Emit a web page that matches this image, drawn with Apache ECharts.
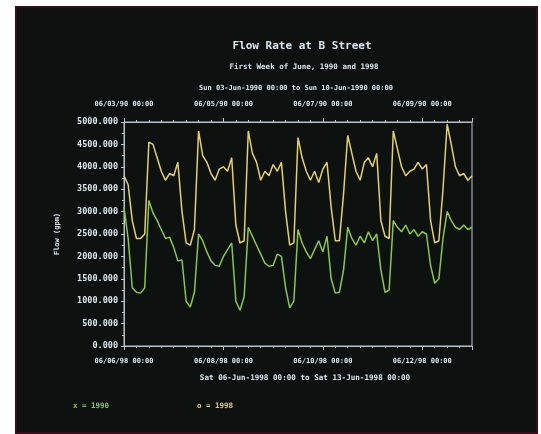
<!DOCTYPE html>
<html><head><meta charset="utf-8">
<script src="https://cdn.jsdelivr.net/npm/echarts@6/dist/echarts.min.js"></script>
<style>
html,body{margin:0;padding:0;background:#ffffff;width:541px;height:434px;overflow:hidden;}
#frame{position:absolute;left:15px;top:6px;width:523px;height:428px;box-sizing:border-box;border:2px solid #3b0c1c;background:#0d1210;}
#chart{position:absolute;left:17px;top:8px;width:519px;height:426px;}
</style></head>
<body>
<div id="frame"></div>
<div id="chart"></div>
<script>
// ---- data ----
const titleText = 'Flow Rate at B Street';
const subtitleText = 'First Week of June, 1990 and 1998';
const topRangeText = 'Sun 03-Jun-1990 00:00 to Sun 10-Jun-1990 00:00';
const bottomRangeText = 'Sat 06-Jun-1998 00:00 to Sat 13-Jun-1998 00:00';
const yAxisName = 'Flow (gpm)';
const topTickLabels = ['06/03/90 00:00', '06/05/90 00:00', '06/07/90 00:00', '06/09/90 00:00'];
const bottomTickLabels = ['06/06/98 00:00', '06/08/98 00:00', '06/10/98 00:00', '06/12/98 00:00'];
const legendGreen = 'x = 1990';
const legendYellow = 'o = 1998';
const sampleStepHours = 2;
// flow (gpm) every 2 hours, 1990 (top axis)
const flow1990 = [3100,2400,1300,1200,1180,1300,3250,2970,2800,2600,2400,2430,2200,1900,1920,1000,870,1200,
  2500,2350,2100,1900,1800,1780,2000,2150,2300,1000,800,1100,2650,2450,2250,2050,1850,1780,1800,2050,2000,
  1300,850,1000,2600,2300,2100,1950,2150,2350,2100,2450,1500,1180,1200,1700,2650,2400,2250,2450,2300,2550,
  2350,2500,1700,1200,1250,2800,2650,2550,2700,2500,2600,2450,2550,2500,1800,1400,1500,2400,3000,2800,2650,
  2600,2700,2600,2650];
// flow (gpm) every 2 hours, 1998 (bottom axis)
const flow1998 = [3800,3600,2800,2400,2400,2500,4550,4500,4200,3900,3700,3850,3800,4100,3000,2300,2250,2600,
  4800,4250,4100,3850,3700,3950,4000,3900,4200,2700,2300,2350,4800,4300,4100,3700,3900,3800,4050,3900,4100,
  3000,2250,2300,4650,4200,3900,3700,3900,3650,3950,4100,3100,2350,2350,3400,4700,4300,3900,3700,4100,4200,
  4000,4300,2800,2450,2400,4800,4400,4000,3800,3900,3950,4100,3950,4050,2800,2300,2350,3500,4950,4500,4000,
  3800,3850,3700,3800];

const TXT = '#dde6f0';
const AX = '#b9c2cc';
const GREEN = '#8cc450';
const YELLOW = '#e6cf6e';
const FONT = 'DejaVu Sans Mono';

const toPairs = arr => arr.map((v, i) => [i * sampleStepHours, v]);

const chart = echarts.init(document.getElementById('chart'), null, {renderer: 'canvas'});

function xAxisCommon(labels, pos, margin) {
  return {
    type: 'value', position: pos, min: 0, max: 168, interval: 48,
    axisLine: {show: true, onZero: false, lineStyle: {color: AX, width: 1}},
    axisTick: {show: true, length: 4, lineStyle: {color: AX}},
    minorTick: {show: true, splitNumber: 8, length: 2, lineStyle: {color: AX}},
    splitLine: {show: false},
    axisLabel: {
      color: TXT, fontFamily: FONT, fontSize: 7, fontWeight: 'bold', margin: margin,
      showMaxLabel: false,
      formatter: v => (v % 48 === 0 ? (labels[v / 48] || '') : '')
    }
  };
}

const option = {
  backgroundColor: 'transparent',
  animation: false,
  grid: {left: 107, top: 114, right: 64, bottom: 88, show: true, borderColor: AX, borderWidth: 1},
  xAxis: [xAxisCommon(bottomTickLabels, 'bottom', 12), xAxisCommon(topTickLabels, 'top', 14)],
  yAxis: {
    type: 'value', min: 0, max: 5000, interval: 500,
    axisLine: {show: true, lineStyle: {color: AX}},
    axisTick: {show: true, length: 3, lineStyle: {color: AX}},
    minorTick: {show: true, splitNumber: 2, length: 2, lineStyle: {color: AX}},
    splitLine: {show: false},
    axisLabel: {color: TXT, fontFamily: FONT, fontSize: 8.5, fontWeight: 'bold', margin: 6,
      formatter: v => v.toFixed(3)}
  },
  series: [
    {type: 'line', name: '1990', xAxisIndex: 1, data: toPairs(flow1990), showSymbol: false,
      lineStyle: {color: GREEN, width: 1.5}, itemStyle: {color: GREEN}},
    {type: 'line', name: '1998', xAxisIndex: 0, data: toPairs(flow1998), showSymbol: false,
      lineStyle: {color: YELLOW, width: 1.5}, itemStyle: {color: YELLOW}}
  ],
  graphic: [
    {type: 'text', x: 285, y: 38, style: {text: titleText, fill: TXT, font: 'bold 11px "' + FONT + '"', align: 'center', verticalAlign: 'middle'}},
    {type: 'text', x: 287, y: 59, style: {text: subtitleText, fill: TXT, font: 'bold 7.5px "' + FONT + '"', align: 'center', verticalAlign: 'middle'}},
    {type: 'text', x: 279, y: 80, style: {text: topRangeText, fill: TXT, font: 'bold 7px "' + FONT + '"', align: 'center', verticalAlign: 'middle'}},
    {type: 'text', x: 288, y: 370, style: {text: bottomRangeText, fill: TXT, font: 'bold 7.6px "' + FONT + '"', align: 'center', verticalAlign: 'middle'}},
    {type: 'text', x: 40, y: 226, rotation: Math.PI / 2, style: {text: yAxisName, fill: TXT, font: 'bold 7px "' + FONT + '"', align: 'center', verticalAlign: 'middle'}},
    {type: 'text', x: 56, y: 394, style: {text: legendGreen, fill: GREEN, font: 'bold 7.5px "' + FONT + '"'}},
    {type: 'text', x: 180, y: 394, style: {text: legendYellow, fill: YELLOW, font: 'bold 7.5px "' + FONT + '"'}}
  ]
};
chart.setOption(option);
</script>
</body></html>
